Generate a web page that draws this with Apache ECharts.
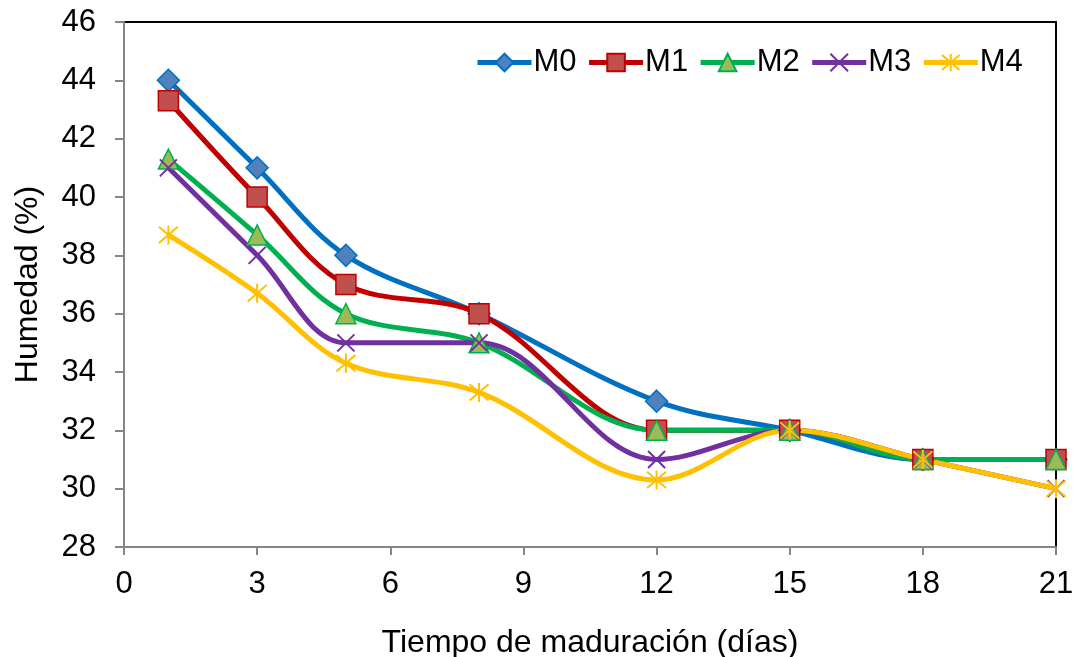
<!DOCTYPE html>
<html>
<head>
<meta charset="utf-8">
<script src="https://cdn.jsdelivr.net/npm/echarts@6/dist/echarts.min.js"></script>
<style>
  html, body { margin: 0; padding: 0; background: #fff; }
  #chart { width: 1075px; height: 657px; }
</style>
</head>
<body>
<div id="chart"></div>
<script>
// días de maduración
const dias = [1, 3, 5, 8, 12, 15, 18, 21];
const m0 = [44, 41, 38, 36, 33, 32, 31, 31];
const m1 = [43.3, 40, 37, 36, 32, 32, 31, 31];
const m2 = [41.3, 38.7, 36, 35, 32, 32, 31, 31];
const m3 = [41, 38, 35, 35, 31, 32, 31, 30];
const m4 = [38.7, 36.7, 34.3, 33.3, 30.3, 32, 31, 30];

const pairs = (ys) => ys.map((y, i) => [dias[i], y]);

const crossPath = 'path://M0,0L10,10M10,0L0,10';
const starPath = 'path://M5,0L5,10M0.7,0.7L9.3,9.3M9.3,0.7L0.7,9.3';

const makeSeries = (name, data, lineColor, fill, border, symbol, size, bw) => ({
  name: name,
  type: 'line',
  smooth: 0.35,
  data: pairs(data),
  symbol: symbol,
  symbolSize: size,
  lineStyle: { color: lineColor, width: 5 },
  itemStyle: { color: fill, borderColor: border, borderWidth: bw },
  emphasis: { disabled: true }
});

const series = [
  makeSeries('M0', m0, '#0070C0', '#4F81BD', '#0070C0', 'diamond', 22, 1.5),
  makeSeries('M1', m1, '#C00000', '#C0504D', '#C00000', 'rect', 20, 1.5),
  makeSeries('M2', m2, '#00B050', '#9BBB59', '#00B050', 'triangle', 20, 1.5),
  makeSeries('M3', m3, '#7030A0', 'none', '#7030A0', crossPath, 17, 2),
  makeSeries('M4', m4, '#FFC000', 'none', '#FFC000', starPath, 19, 2)
];

const font = 'Liberation Sans, Arial, sans-serif';

const option = {
  animation: false,
  grid: {
    left: 124, right: 19, top: 22, bottom: 110,
    outerBoundsMode: 'none',
    containLabel: false,
    show: true, borderColor: '#000', borderWidth: 2
  },
  legend: {
    data: ['M0', 'M1', 'M2', 'M3', 'M4'],
    left: 470, top: 42,
    itemWidth: 54, itemHeight: 22, itemGap: 10,
    lineStyle: { width: 5 },
    textStyle: { fontFamily: font, fontSize: 31, color: '#000', padding: [0, 0, 0, -3] }
  },
  xAxis: {
    type: 'value',
    min: 0, max: 21, interval: 3,
    name: 'Tiempo de maduración (días)',
    nameLocation: 'middle', nameGap: 80,
    nameTextStyle: { fontFamily: font, fontSize: 32, color: '#000' },
    axisLine: { onZero: false, lineStyle: { color: '#868686', width: 2 } },
    axisTick: { show: true, length: 8, lineStyle: { color: '#868686', width: 2 } },
    axisLabel: { fontFamily: font, fontSize: 31, color: '#000', margin: 22 },
    splitLine: { show: false }
  },
  yAxis: {
    type: 'value',
    min: 28, max: 46, interval: 2,
    name: 'Humedad (%)',
    nameLocation: 'middle', nameGap: 80,
    nameTextStyle: { fontFamily: font, fontSize: 32, color: '#000' },
    axisLine: { show: true, lineStyle: { color: '#868686', width: 2 } },
    axisTick: { show: true, length: 9, lineStyle: { color: '#868686', width: 2 } },
    axisLabel: { fontFamily: font, fontSize: 31, color: '#000', margin: 28 },
    splitLine: { show: false }
  },
  series: series
};

const chart = echarts.init(document.getElementById('chart'));
chart.setOption(option);
</script>
</body>
</html>
